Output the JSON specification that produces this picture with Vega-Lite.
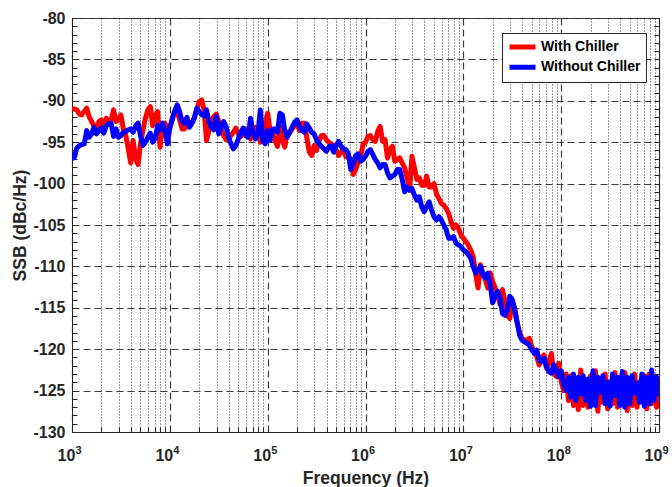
{
  "$schema": "https://vega.github.io/schema/vega-lite/v6.json",
  "width": 587,
  "height": 414,
  "autosize": {"type": "none"},
  "padding": {"left": 72, "top": 18, "right": 13, "bottom": 55},
  "background": "white",
  "config": {
    "font": "Liberation Sans",
    "view": {"stroke": "#262626", "strokeWidth": 1}
  },
  "data": {"values": [
    {"f":1e3,"With Chiller":-90.9,"Without Chiller":-97.0},
    {"f":1.059e3,"With Chiller":-91.0,"Without Chiller":-96.8},
    {"f":1.122e3,"With Chiller":-91.1,"Without Chiller":-95.7},
    {"f":1.189e3,"With Chiller":-91.6,"Without Chiller":-95.4},
    {"f":1.259e3,"With Chiller":-91.7,"Without Chiller":-95.3},
    {"f":1.334e3,"With Chiller":-91.3,"Without Chiller":-95.2},
    {"f":1.413e3,"With Chiller":-90.9,"Without Chiller":-93.6},
    {"f":1.496e3,"With Chiller":-91.9,"Without Chiller":-94.4},
    {"f":1.585e3,"With Chiller":-92.5,"Without Chiller":-94.0},
    {"f":1.679e3,"With Chiller":-93.0,"Without Chiller":-93.2},
    {"f":1.778e3,"With Chiller":-93.6,"Without Chiller":-94.0},
    {"f":1.884e3,"With Chiller":-92.5,"Without Chiller":-93.6},
    {"f":1.995e3,"With Chiller":-92.3,"Without Chiller":-93.3},
    {"f":2.113e3,"With Chiller":-93.6,"Without Chiller":-93.9},
    {"f":2.239e3,"With Chiller":-92.1,"Without Chiller":-93.0},
    {"f":2.371e3,"With Chiller":-92.7,"Without Chiller":-92.8},
    {"f":2.512e3,"With Chiller":-92.3,"Without Chiller":-92.7},
    {"f":2.661e3,"With Chiller":-91.1,"Without Chiller":-94.3},
    {"f":2.818e3,"With Chiller":-92.5,"Without Chiller":-93.4},
    {"f":2.985e3,"With Chiller":-92.3,"Without Chiller":-94.4},
    {"f":3.162e3,"With Chiller":-91.7,"Without Chiller":-94.2},
    {"f":3.35e3,"With Chiller":-93.4,"Without Chiller":-93.8},
    {"f":3.548e3,"With Chiller":-94.2,"Without Chiller":-93.7},
    {"f":3.758e3,"With Chiller":-95.8,"Without Chiller":-93.5},
    {"f":3.981e3,"With Chiller":-97.5,"Without Chiller":-93.4},
    {"f":4.217e3,"With Chiller":-94.8,"Without Chiller":-93.8},
    {"f":4.467e3,"With Chiller":-97.0,"Without Chiller":-93.0},
    {"f":4.732e3,"With Chiller":-97.7,"Without Chiller":-92.7},
    {"f":5.012e3,"With Chiller":-95.2,"Without Chiller":-94.2},
    {"f":5.309e3,"With Chiller":-93.6,"Without Chiller":-95.4},
    {"f":5.623e3,"With Chiller":-92.1,"Without Chiller":-95.0},
    {"f":5.957e3,"With Chiller":-91.1,"Without Chiller":-94.4},
    {"f":6.31e3,"With Chiller":-90.7,"Without Chiller":-93.9},
    {"f":6.683e3,"With Chiller":-93.0,"Without Chiller":-95.0},
    {"f":7.079e3,"With Chiller":-91.7,"Without Chiller":-94.6},
    {"f":7.499e3,"With Chiller":-91.3,"Without Chiller":-93.0},
    {"f":7.943e3,"With Chiller":-95.6,"Without Chiller":-93.5},
    {"f":8.414e3,"With Chiller":-93.0,"Without Chiller":-92.7},
    {"f":8.913e3,"With Chiller":-92.7,"Without Chiller":-93.6},
    {"f":9.441e3,"With Chiller":-93.4,"Without Chiller":-95.2},
    {"f":1e4,"With Chiller":-93.4,"Without Chiller":-93.2},
    {"f":1.059e4,"With Chiller":-92.1,"Without Chiller":-92.3},
    {"f":1.122e4,"With Chiller":-91.3,"Without Chiller":-91.2},
    {"f":1.189e4,"With Chiller":-91.3,"Without Chiller":-90.5},
    {"f":1.259e4,"With Chiller":-92.3,"Without Chiller":-91.3},
    {"f":1.334e4,"With Chiller":-93.4,"Without Chiller":-92.5},
    {"f":1.413e4,"With Chiller":-93.4,"Without Chiller":-92.7},
    {"f":1.496e4,"With Chiller":-92.3,"Without Chiller":-92.0},
    {"f":1.585e4,"With Chiller":-93.1,"Without Chiller":-93.2},
    {"f":1.679e4,"With Chiller":-92.7,"Without Chiller":-92.7},
    {"f":1.778e4,"With Chiller":-92.1,"Without Chiller":-92.1},
    {"f":1.884e4,"With Chiller":-91.1,"Without Chiller":-90.9},
    {"f":1.995e4,"With Chiller":-90.1,"Without Chiller":-91.3},
    {"f":2.113e4,"With Chiller":-89.9,"Without Chiller":-91.7},
    {"f":2.239e4,"With Chiller":-91.1,"Without Chiller":-91.8},
    {"f":2.371e4,"With Chiller":-94.8,"Without Chiller":-91.1},
    {"f":2.512e4,"With Chiller":-93.6,"Without Chiller":-92.5},
    {"f":2.661e4,"With Chiller":-92.5,"Without Chiller":-93.2},
    {"f":2.818e4,"With Chiller":-91.9,"Without Chiller":-93.5},
    {"f":2.985e4,"With Chiller":-91.6,"Without Chiller":-91.9},
    {"f":3.162e4,"With Chiller":-92.5,"Without Chiller":-94.0},
    {"f":3.35e4,"With Chiller":-93.4,"Without Chiller":-93.2},
    {"f":3.548e4,"With Chiller":-94.2,"Without Chiller":-92.5},
    {"f":3.758e4,"With Chiller":-94.7,"Without Chiller":-93.1},
    {"f":3.981e4,"With Chiller":-94.6,"Without Chiller":-94.4},
    {"f":4.217e4,"With Chiller":-94.2,"Without Chiller":-95.2},
    {"f":4.467e4,"With Chiller":-93.8,"Without Chiller":-95.8},
    {"f":4.732e4,"With Chiller":-93.3,"Without Chiller":-95.4},
    {"f":5.012e4,"With Chiller":-94.0,"Without Chiller":-94.6},
    {"f":5.309e4,"With Chiller":-94.3,"Without Chiller":-93.8},
    {"f":5.623e4,"With Chiller":-94.0,"Without Chiller":-93.3},
    {"f":5.957e4,"With Chiller":-93.4,"Without Chiller":-94.2},
    {"f":6.31e4,"With Chiller":-94.0,"Without Chiller":-94.4},
    {"f":6.683e4,"With Chiller":-94.6,"Without Chiller":-92.1},
    {"f":7.079e4,"With Chiller":-94.2,"Without Chiller":-93.8},
    {"f":7.499e4,"With Chiller":-93.2,"Without Chiller":-94.6},
    {"f":7.943e4,"With Chiller":-93.6,"Without Chiller":-94.0},
    {"f":8.414e4,"With Chiller":-95.0,"Without Chiller":-91.1},
    {"f":8.913e4,"With Chiller":-94.6,"Without Chiller":-94.8},
    {"f":9.441e4,"With Chiller":-92.7,"Without Chiller":-95.2},
    {"f":1e5,"With Chiller":-91.5,"Without Chiller":-93.6},
    {"f":1.059e5,"With Chiller":-93.6,"Without Chiller":-94.8},
    {"f":1.122e5,"With Chiller":-93.9,"Without Chiller":-93.4},
    {"f":1.189e5,"With Chiller":-94.8,"Without Chiller":-93.4},
    {"f":1.259e5,"With Chiller":-95.5,"Without Chiller":-93.8},
    {"f":1.334e5,"With Chiller":-93.2,"Without Chiller":-91.5},
    {"f":1.413e5,"With Chiller":-94.8,"Without Chiller":-91.7},
    {"f":1.496e5,"With Chiller":-95.6,"Without Chiller":-93.6},
    {"f":1.585e5,"With Chiller":-93.8,"Without Chiller":-94.4},
    {"f":1.679e5,"With Chiller":-93.9,"Without Chiller":-93.8},
    {"f":1.778e5,"With Chiller":-93.4,"Without Chiller":-93.2},
    {"f":1.884e5,"With Chiller":-93.0,"Without Chiller":-92.6},
    {"f":1.995e5,"With Chiller":-92.7,"Without Chiller":-92.3},
    {"f":2.113e5,"With Chiller":-93.6,"Without Chiller":-93.1},
    {"f":2.239e5,"With Chiller":-92.7,"Without Chiller":-93.6},
    {"f":2.371e5,"With Chiller":-92.7,"Without Chiller":-93.8},
    {"f":2.512e5,"With Chiller":-94.4,"Without Chiller":-92.8},
    {"f":2.661e5,"With Chiller":-96.2,"Without Chiller":-93.3},
    {"f":2.818e5,"With Chiller":-96.6,"Without Chiller":-93.8},
    {"f":2.985e5,"With Chiller":-95.4,"Without Chiller":-94.0},
    {"f":3.162e5,"With Chiller":-96.0,"Without Chiller":-94.7},
    {"f":3.35e5,"With Chiller":-94.8,"Without Chiller":-95.2},
    {"f":3.548e5,"With Chiller":-94.2,"Without Chiller":-95.5},
    {"f":3.758e5,"With Chiller":-94.2,"Without Chiller":-95.8},
    {"f":3.981e5,"With Chiller":-94.7,"Without Chiller":-96.1},
    {"f":4.217e5,"With Chiller":-95.0,"Without Chiller":-95.6},
    {"f":4.467e5,"With Chiller":-95.2,"Without Chiller":-95.4},
    {"f":4.732e5,"With Chiller":-95.4,"Without Chiller":-96.2},
    {"f":5.012e5,"With Chiller":-95.9,"Without Chiller":-95.4},
    {"f":5.309e5,"With Chiller":-96.6,"Without Chiller":-94.9},
    {"f":5.623e5,"With Chiller":-96.2,"Without Chiller":-95.5},
    {"f":5.957e5,"With Chiller":-95.8,"Without Chiller":-95.8},
    {"f":6.31e5,"With Chiller":-96.8,"Without Chiller":-95.9},
    {"f":6.683e5,"With Chiller":-96.8,"Without Chiller":-96.4},
    {"f":7.079e5,"With Chiller":-97.0,"Without Chiller":-98.3},
    {"f":7.499e5,"With Chiller":-98.9,"Without Chiller":-97.5},
    {"f":7.943e5,"With Chiller":-98.3,"Without Chiller":-96.6},
    {"f":8.414e5,"With Chiller":-97.3,"Without Chiller":-96.4},
    {"f":8.913e5,"With Chiller":-96.8,"Without Chiller":-97.3},
    {"f":9.441e5,"With Chiller":-95.2,"Without Chiller":-97.1},
    {"f":1e6,"With Chiller":-95.0,"Without Chiller":-96.7},
    {"f":1.059e6,"With Chiller":-94.3,"Without Chiller":-96.1},
    {"f":1.122e6,"With Chiller":-94.2,"Without Chiller":-95.9},
    {"f":1.189e6,"With Chiller":-94.7,"Without Chiller":-96.5},
    {"f":1.259e6,"With Chiller":-94.9,"Without Chiller":-97.1},
    {"f":1.334e6,"With Chiller":-93.7,"Without Chiller":-97.5},
    {"f":1.413e6,"With Chiller":-93.1,"Without Chiller":-98.1},
    {"f":1.496e6,"With Chiller":-94.9,"Without Chiller":-97.7},
    {"f":1.585e6,"With Chiller":-94.7,"Without Chiller":-97.7},
    {"f":1.679e6,"With Chiller":-96.9,"Without Chiller":-98.7},
    {"f":1.778e6,"With Chiller":-95.9,"Without Chiller":-99.3},
    {"f":1.884e6,"With Chiller":-95.5,"Without Chiller":-99.1},
    {"f":1.995e6,"With Chiller":-97.3,"Without Chiller":-98.9},
    {"f":2.113e6,"With Chiller":-97.1,"Without Chiller":-98.3},
    {"f":2.239e6,"With Chiller":-96.9,"Without Chiller":-98.3},
    {"f":2.371e6,"With Chiller":-97.5,"Without Chiller":-99.5},
    {"f":2.512e6,"With Chiller":-98.1,"Without Chiller":-101.0},
    {"f":2.661e6,"With Chiller":-99.3,"Without Chiller":-100.4},
    {"f":2.818e6,"With Chiller":-100.8,"Without Chiller":-100.8},
    {"f":2.985e6,"With Chiller":-96.7,"Without Chiller":-100.6},
    {"f":3.162e6,"With Chiller":-98.1,"Without Chiller":-101.4},
    {"f":3.35e6,"With Chiller":-99.5,"Without Chiller":-102.0},
    {"f":3.548e6,"With Chiller":-99.3,"Without Chiller":-101.6},
    {"f":3.758e6,"With Chiller":-100.2,"Without Chiller":-102.8},
    {"f":3.981e6,"With Chiller":-100.2,"Without Chiller":-103.4},
    {"f":4.217e6,"With Chiller":-99.1,"Without Chiller":-102.8},
    {"f":4.467e6,"With Chiller":-100.4,"Without Chiller":-102.2},
    {"f":4.732e6,"With Chiller":-100.4,"Without Chiller":-103.2},
    {"f":5.012e6,"With Chiller":-100.0,"Without Chiller":-104.0},
    {"f":5.309e6,"With Chiller":-101.2,"Without Chiller":-104.4},
    {"f":5.623e6,"With Chiller":-101.8,"Without Chiller":-104.0},
    {"f":5.957e6,"With Chiller":-102.4,"Without Chiller":-104.4},
    {"f":6.31e6,"With Chiller":-102.6,"Without Chiller":-105.0},
    {"f":6.683e6,"With Chiller":-103.0,"Without Chiller":-105.6},
    {"f":7.079e6,"With Chiller":-103.6,"Without Chiller":-106.6},
    {"f":7.499e6,"With Chiller":-104.6,"Without Chiller":-106.6},
    {"f":7.943e6,"With Chiller":-105.4,"Without Chiller":-106.4},
    {"f":8.414e6,"With Chiller":-105.0,"Without Chiller":-107.2},
    {"f":8.913e6,"With Chiller":-105.4,"Without Chiller":-107.4},
    {"f":9.441e6,"With Chiller":-106.2,"Without Chiller":-107.6},
    {"f":1e7,"With Chiller":-106.6,"Without Chiller":-108.0},
    {"f":1.059e7,"With Chiller":-107.0,"Without Chiller":-108.2},
    {"f":1.122e7,"With Chiller":-107.4,"Without Chiller":-108.6},
    {"f":1.189e7,"With Chiller":-108.0,"Without Chiller":-109.0},
    {"f":1.259e7,"With Chiller":-108.8,"Without Chiller":-110.0},
    {"f":1.334e7,"With Chiller":-110.8,"Without Chiller":-110.8},
    {"f":1.413e7,"With Chiller":-112.6,"Without Chiller":-110.4},
    {"f":1.496e7,"With Chiller":-109.8,"Without Chiller":-110.0},
    {"f":1.585e7,"With Chiller":-110.8,"Without Chiller":-111.0},
    {"f":1.679e7,"With Chiller":-111.6,"Without Chiller":-111.4},
    {"f":1.778e7,"With Chiller":-112.6,"Without Chiller":-110.8},
    {"f":1.884e7,"With Chiller":-110.8,"Without Chiller":-112.2},
    {"f":1.995e7,"With Chiller":-111.8,"Without Chiller":-114.4},
    {"f":2.113e7,"With Chiller":-112.6,"Without Chiller":-113.6},
    {"f":2.239e7,"With Chiller":-113.4,"Without Chiller":-113.0},
    {"f":2.371e7,"With Chiller":-114.6,"Without Chiller":-113.8},
    {"f":2.512e7,"With Chiller":-112.8,"Without Chiller":-115.7},
    {"f":2.661e7,"With Chiller":-114.2,"Without Chiller":-115.9},
    {"f":2.818e7,"With Chiller":-115.9,"Without Chiller":-115.3},
    {"f":2.985e7,"With Chiller":-116.3,"Without Chiller":-113.6},
    {"f":3.162e7,"With Chiller":-114.2,"Without Chiller":-114.0},
    {"f":3.35e7,"With Chiller":-115.0,"Without Chiller":-115.3},
    {"f":3.548e7,"With Chiller":-116.9,"Without Chiller":-116.7},
    {"f":3.758e7,"With Chiller":-117.9,"Without Chiller":-118.3},
    {"f":3.981e7,"With Chiller":-118.7,"Without Chiller":-118.9},
    {"f":4.217e7,"With Chiller":-118.9,"Without Chiller":-119.1},
    {"f":4.467e7,"With Chiller":-118.9,"Without Chiller":-119.3},
    {"f":4.732e7,"With Chiller":-118.7,"Without Chiller":-119.5},
    {"f":5.012e7,"With Chiller":-119.7,"Without Chiller":-120.1},
    {"f":5.309e7,"With Chiller":-120.3,"Without Chiller":-120.5},
    {"f":5.623e7,"With Chiller":-120.9,"Without Chiller":-120.1},
    {"f":5.957e7,"With Chiller":-121.9,"Without Chiller":-121.3},
    {"f":6.31e7,"With Chiller":-121.1,"Without Chiller":-121.5},
    {"f":6.683e7,"With Chiller":-120.7,"Without Chiller":-121.1},
    {"f":7.079e7,"With Chiller":-122.3,"Without Chiller":-122.1},
    {"f":7.499e7,"With Chiller":-121.5,"Without Chiller":-122.7},
    {"f":7.943e7,"With Chiller":-120.5,"Without Chiller":-122.9},
    {"f":8.414e7,"With Chiller":-122.9,"Without Chiller":-121.9},
    {"f":8.913e7,"With Chiller":-123.3,"Without Chiller":-122.5},
    {"f":9.441e7,"With Chiller":-121.7,"Without Chiller":-123.3},
    {"f":1e8,"With Chiller":-123.9,"Without Chiller":-122.6},
    {"f":1.059e8,"With Chiller":-125.0,"Without Chiller":-124.2},
    {"f":1.122e8,"With Chiller":-123.0,"Without Chiller":-125.0},
    {"f":1.189e8,"With Chiller":-126.2,"Without Chiller":-123.4},
    {"f":1.259e8,"With Chiller":-123.2,"Without Chiller":-125.8},
    {"f":1.334e8,"With Chiller":-126.8,"Without Chiller":-123.0},
    {"f":1.413e8,"With Chiller":-124.0,"Without Chiller":-126.2},
    {"f":1.496e8,"With Chiller":-127.3,"Without Chiller":-123.4},
    {"f":1.585e8,"With Chiller":-122.5,"Without Chiller":-125.4},
    {"f":1.679e8,"With Chiller":-126.8,"Without Chiller":-123.2},
    {"f":1.778e8,"With Chiller":-123.8,"Without Chiller":-126.2},
    {"f":1.884e8,"With Chiller":-127.0,"Without Chiller":-123.6},
    {"f":1.995e8,"With Chiller":-123.2,"Without Chiller":-126.9},
    {"f":2.113e8,"With Chiller":-125.8,"Without Chiller":-122.6},
    {"f":2.239e8,"With Chiller":-122.6,"Without Chiller":-126.8},
    {"f":2.371e8,"With Chiller":-127.5,"Without Chiller":-123.4},
    {"f":2.512e8,"With Chiller":-123.6,"Without Chiller":-125.2},
    {"f":2.661e8,"With Chiller":-126.4,"Without Chiller":-123.2},
    {"f":2.818e8,"With Chiller":-123.0,"Without Chiller":-126.6},
    {"f":2.985e8,"With Chiller":-127.2,"Without Chiller":-124.0},
    {"f":3.162e8,"With Chiller":-124.0,"Without Chiller":-126.9},
    {"f":3.35e8,"With Chiller":-126.6,"Without Chiller":-123.0},
    {"f":3.548e8,"With Chiller":-122.8,"Without Chiller":-125.6},
    {"f":3.758e8,"With Chiller":-127.0,"Without Chiller":-123.4},
    {"f":3.981e8,"With Chiller":-123.4,"Without Chiller":-126.8},
    {"f":4.217e8,"With Chiller":-126.2,"Without Chiller":-122.7},
    {"f":4.467e8,"With Chiller":-122.8,"Without Chiller":-127.0},
    {"f":4.732e8,"With Chiller":-127.4,"Without Chiller":-123.4},
    {"f":5.012e8,"With Chiller":-123.6,"Without Chiller":-126.6},
    {"f":5.309e8,"With Chiller":-126.8,"Without Chiller":-123.2},
    {"f":5.623e8,"With Chiller":-123.0,"Without Chiller":-125.3},
    {"f":5.957e8,"With Chiller":-127.0,"Without Chiller":-124.1},
    {"f":6.31e8,"With Chiller":-124.0,"Without Chiller":-126.4},
    {"f":6.683e8,"With Chiller":-126.4,"Without Chiller":-123.0},
    {"f":7.079e8,"With Chiller":-123.2,"Without Chiller":-126.9},
    {"f":7.499e8,"With Chiller":-127.2,"Without Chiller":-123.4},
    {"f":7.943e8,"With Chiller":-123.0,"Without Chiller":-126.6},
    {"f":8.414e8,"With Chiller":-126.6,"Without Chiller":-122.5},
    {"f":8.913e8,"With Chiller":-123.4,"Without Chiller":-126.2},
    {"f":9.441e8,"With Chiller":-127.0,"Without Chiller":-123.4},
    {"f":1e9,"With Chiller":-124.0,"Without Chiller":-125.4}
  ]},
  "transform": [{"fold": ["With Chiller", "Without Chiller"], "as": ["series", "ssb"]}],
  "layer": [
    {
      "transform": [{"filter": "datum.series == 'With Chiller'"}],
      "mark": {"type": "line", "strokeWidth": 5, "strokeJoin": "round", "strokeCap": "round", "clip": true},
      "encoding": {
        "x": {
          "field": "f", "type": "quantitative",
          "scale": {"type": "log", "domain": [1000, 1000000000], "nice": false},
          "axis": {
            "orient": "bottom",
            "values": [1e3,2e3,3e3,4e3,5e3,6e3,7e3,8e3,9e3,1e4,2e4,3e4,4e4,5e4,6e4,7e4,8e4,9e4,1e5,2e5,3e5,4e5,5e5,6e5,7e5,8e5,9e5,1e6,2e6,3e6,4e6,5e6,6e6,7e6,8e6,9e6,1e7,2e7,3e7,4e7,5e7,6e7,7e7,8e7,9e7,1e8,2e8,3e8,4e8,5e8,6e8,7e8,8e8,9e8,1e9],
            "title": "Frequency (Hz)",
            "titleFont": "Liberation Sans", "titleFontSize": 17.5, "titleFontWeight": "bold", "titleColor": "#262626", "titlePadding": 6,
            "labelExpr": "abs(log(datum.value)/LN10 - round(log(datum.value)/LN10)) < 0.001 ? '10' : ''",
            "labelFont": "Liberation Sans", "labelFontSize": 16, "labelFontWeight": "bold", "labelColor": "#262626",
            "labelPadding": 20, "labelOffset": -6, "labelFlush": false, "labelOverlap": false, "labelBound": false,
            "tickSize": -5, "tickColor": "#262626", "tickWidth": 1,
            "domain": true, "domainColor": "#262626", "domainWidth": 1,
            "grid": true, "gridColor": "#3c3c3c", "gridOpacity": 1,
            "gridDash": {"condition": {"test": "abs(log(datum.value)/LN10 - round(log(datum.value)/LN10)) < 0.001", "value": [7, 4]}, "value": [1, 2]},
            "gridWidth": {"condition": {"test": "abs(log(datum.value)/LN10 - round(log(datum.value)/LN10)) < 0.001", "value": 1.2}, "value": 1}
          }
        },
        "y": {
          "field": "ssb", "type": "quantitative",
          "scale": {"domain": [-130, -80], "nice": false, "zero": false},
          "axis": {
            "orient": "left",
            "values": [-130,-129,-128,-127,-126,-125,-124,-123,-122,-121,-120,-119,-118,-117,-116,-115,-114,-113,-112,-111,-110,-109,-108,-107,-106,-105,-104,-103,-102,-101,-100,-99,-98,-97,-96,-95,-94,-93,-92,-91,-90,-89,-88,-87,-86,-85,-84,-83,-82,-81,-80],
            "title": "SSB (dBc/Hz)",
            "titleFont": "Liberation Sans", "titleFontSize": 17.5, "titleFontWeight": "bold", "titleColor": "#262626", "titlePadding": 3,
            "labelExpr": "datum.value % 5 == 0 ? '' + datum.value : ''",
            "labelFont": "Liberation Sans", "labelFontSize": 16, "labelFontWeight": "bold", "labelColor": "#262626",
            "labelPadding": 12, "labelOverlap": false, "labelBound": false, "labelFlush": false,
            "tickSize": -5, "tickColor": "#262626", "tickWidth": 1,
            "domain": true, "domainColor": "#262626", "domainWidth": 1,
            "grid": true, "gridColor": "#3c3c3c", "gridDash": [7, 4], "gridWidth": 1.2,
            "gridOpacity": {"condition": {"test": "datum.value % 5 != 0", "value": 0}, "value": 1}
          }
        },
        "color": {
          "field": "series", "type": "nominal",
          "scale": {"domain": ["With Chiller", "Without Chiller"], "range": ["#ff0000", "#0000ff"]},
          "legend": {
            "title": null, "orient": "none", "legendX": 430, "legendY": 15,
            "symbolType": "stroke", "symbolSize": 676, "symbolStrokeWidth": 5,
            "labelFont": "Liberation Sans", "labelFontSize": 14, "labelFontWeight": "bold", "labelColor": "#000000",
            "labelOffset": 3, "padding": 5, "clipHeight": 18, "rowPadding": 2.3,
            "strokeColor": "#262626", "fillColor": "#ffffff", "cornerRadius": 0
          }
        }
      }
    },
    {
      "transform": [{"filter": "datum.series == 'Without Chiller'"}],
      "mark": {"type": "line", "strokeWidth": 5, "strokeJoin": "round", "strokeCap": "round", "clip": true},
      "encoding": {
        "x": {
          "field": "f", "type": "quantitative",
          "scale": {"type": "log", "domain": [1000, 1000000000], "nice": false},
          "axis": {
            "orient": "bottom",
            "values": [1e3,1e4,1e5,1e6,1e7,1e8,1e9],
            "title": null, "grid": false, "ticks": false, "domain": false,
            "labelExpr": "'' + round(log(datum.value)/LN10)",
            "labelFont": "Liberation Sans", "labelFontSize": 11, "labelFontWeight": "bold", "labelColor": "#262626",
            "labelAlign": "left", "labelOffset": 3, "labelPadding": 12,
            "labelFlush": false, "labelOverlap": false, "labelBound": false
          }
        },
        "y": {
          "field": "ssb", "type": "quantitative",
          "scale": {"domain": [-130, -80], "nice": false, "zero": false},
          "axis": {
            "orient": "right",
            "values": [-130,-129,-128,-127,-126,-125,-124,-123,-122,-121,-120,-119,-118,-117,-116,-115,-114,-113,-112,-111,-110,-109,-108,-107,-106,-105,-104,-103,-102,-101,-100,-99,-98,-97,-96,-95,-94,-93,-92,-91,-90,-89,-88,-87,-86,-85,-84,-83,-82,-81,-80],
            "title": null, "labels": false, "grid": false,
            "tickSize": -5, "tickColor": "#262626", "tickWidth": 1,
            "domain": true, "domainColor": "#262626", "domainWidth": 1
          }
        },
        "color": {
          "field": "series", "type": "nominal",
          "scale": {"domain": ["With Chiller", "Without Chiller"], "range": ["#ff0000", "#0000ff"]},
          "legend": {
            "title": null, "orient": "none", "legendX": 430, "legendY": 15,
            "symbolType": "stroke", "symbolSize": 676, "symbolStrokeWidth": 5,
            "labelFont": "Liberation Sans", "labelFontSize": 14, "labelFontWeight": "bold", "labelColor": "#000000",
            "labelOffset": 3, "padding": 5, "clipHeight": 18, "rowPadding": 2.3,
            "strokeColor": "#262626", "fillColor": "#ffffff", "cornerRadius": 0
          }
        }
      }
    }
  ],
  "resolve": {"axis": {"x": "independent", "y": "independent"}}
}
